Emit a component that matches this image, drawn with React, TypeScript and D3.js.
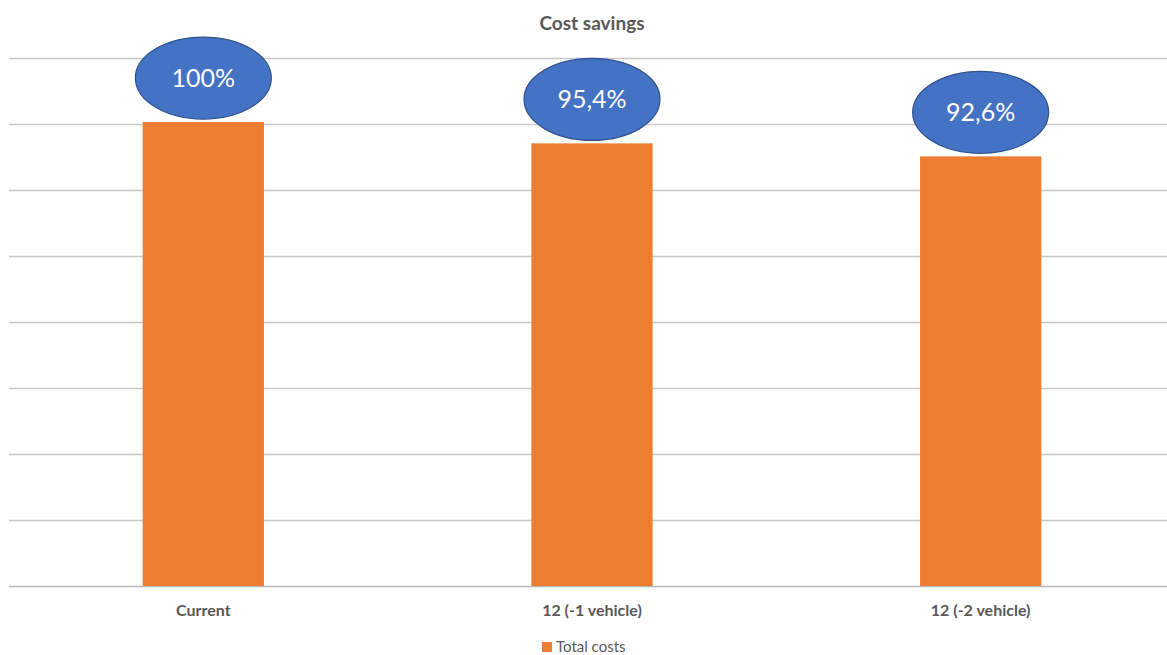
import React from "react";
import * as d3 from "d3";

// Cost scenarios, expressed as a share of the current total cost (%)
const categories: string[] = ["Current", "12 (-1 vehicle)", "12 (-2 vehicle)"];
const totalCosts: number[] = [100, 95.4, 92.6];
const valueLabels: string[] = ["100%", "95,4%", "92,6%"];
const seriesName = "Total costs";
const chartTitle = "Cost savings";

// Value axis: hidden labels, 8 equal gridline steps
const axisMax = 113.8;
const gridSteps = 8;

const W = 1167;
const H = 655;
const FONT = "Lato, 'Open Sans', sans-serif";

export default function App() {
  const margin = { left: 9, right: -8, top: 58, bottom: 69 };
  const x = d3
    .scaleBand<string>()
    .domain(categories)
    .range([margin.left, W - margin.right])
    .paddingInner(0.688)
    .paddingOuter(0.344);
  const y = d3
    .scaleLinear()
    .domain([0, axisMax])
    .range([H - margin.bottom, margin.top]);
  const gridValues = d3.range(0, gridSteps + 1).map((i) => (axisMax * i) / gridSteps);

  const rx = 68;
  const ry = 41;

  return (
    <svg
      width={W}
      height={H}
      style={{ position: "absolute", left: 0, top: 0, background: "#fff" }}
      fontFamily={FONT}
    >
      <text
        x={592}
        y={30}
        textAnchor="middle"
        fontSize={19}
        fontWeight="bold"
        fill="#595959"
      >
        {chartTitle}
      </text>

      {gridValues.map((v, i) => (
        <line
          key={i}
          x1={margin.left}
          x2={W}
          y1={Math.round(y(v)) + 0.5}
          y2={Math.round(y(v)) + 0.5}
          stroke={i === 0 ? "#b8b8b8" : "#c8c8c8"}
          strokeWidth={1.3}
        />
      ))}

      {categories.map((c, i) => {
        const bx = x(c)!;
        const bw = x.bandwidth();
        const top = y(totalCosts[i]);
        const cx = bx + bw / 2;
        const cy = top - ry - 3;
        return (
          <g key={c}>
            <rect x={bx} y={top} width={bw} height={y(0) - top} fill="#ED7D31" />
            <ellipse cx={cx} cy={cy} rx={rx} ry={ry} fill="#4472C4" stroke="#2F528F" strokeWidth={1.2} />
            <text
              x={cx}
              y={cy}
              dy="0.36em"
              textAnchor="middle"
              fontSize={25}
              fill="#ffffff"
            >
              {valueLabels[i]}
            </text>
            <text
              x={cx}
              y={y(0) + 30}
              textAnchor="middle"
              fontSize={16}
              fontWeight="bold"
              fill="#595959"
            >
              {c}
            </text>
          </g>
        );
      })}

      <g transform="translate(542,642)">
        <rect x={0} y={0} width={10} height={10} fill="#ED7D31" />
        <text x={14} y={5} dy="0.35em" fontSize={15} fill="#595959">
          {seriesName}
        </text>
      </g>
    </svg>
  );
}
